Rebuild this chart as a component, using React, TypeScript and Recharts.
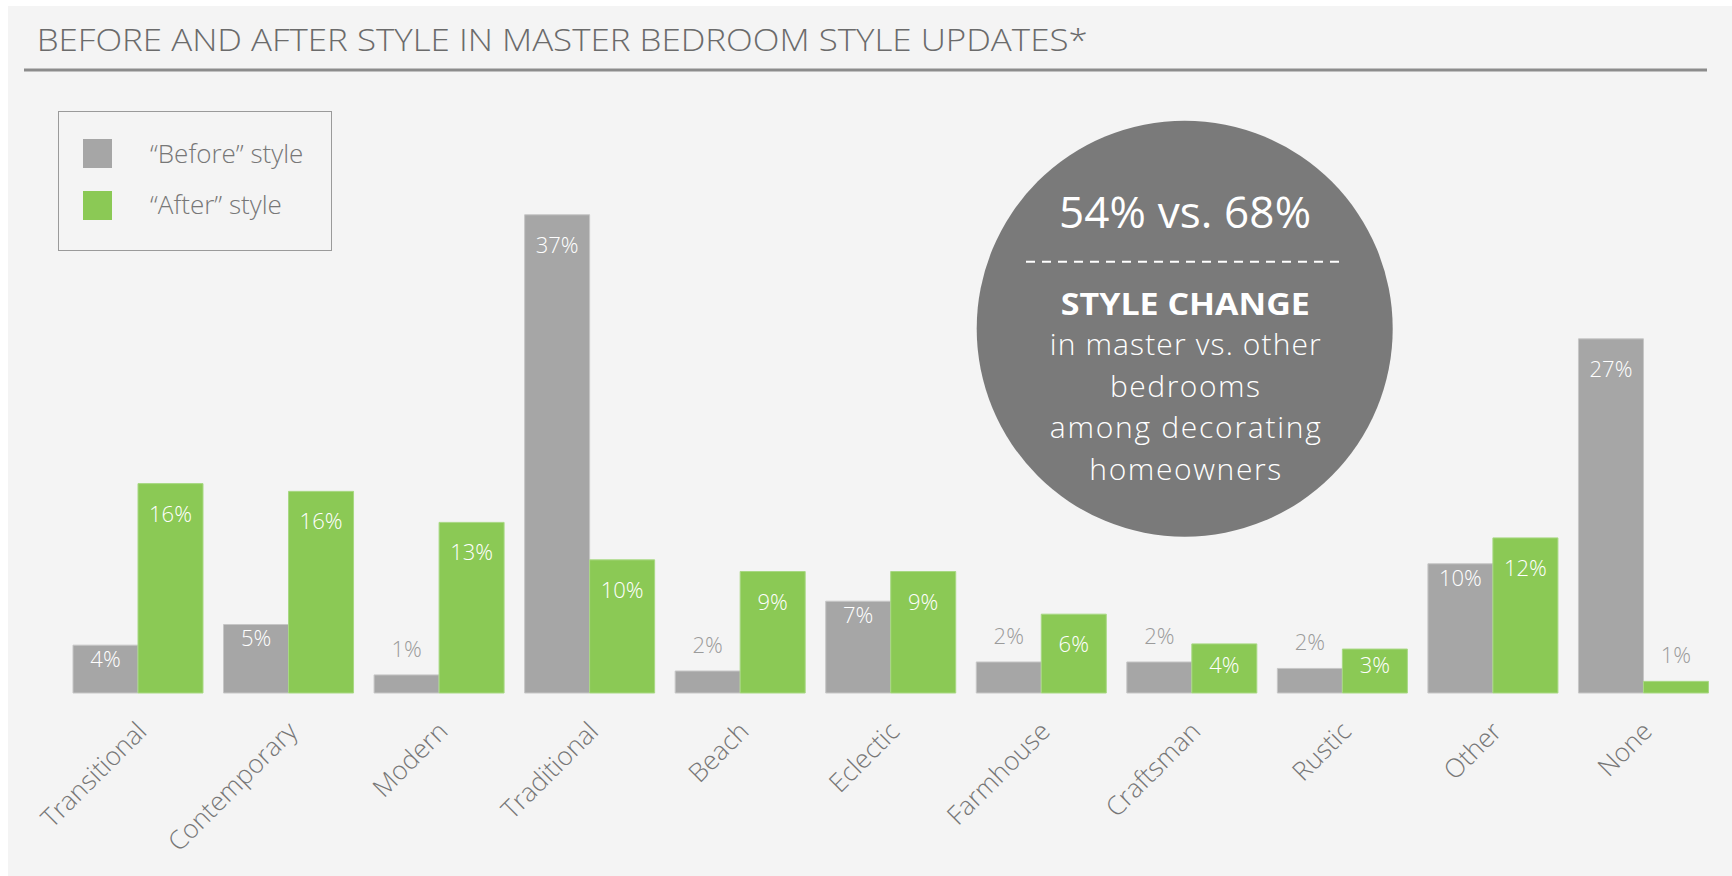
import React from "react";
import { BarChart, Bar, XAxis, YAxis, LabelList } from "recharts";

const categories = [
  "Transitional",
  "Contemporary",
  "Modern",
  "Traditional",
  "Beach",
  "Eclectic",
  "Farmhouse",
  "Craftsman",
  "Rustic",
  "Other",
  "None",
];
const beforeValues = [3.7, 5.3, 1.4, 37, 1.7, 7.1, 2.4, 2.4, 1.9, 10.0, 27.4];
const afterValues = [16.2, 15.6, 13.2, 10.3, 9.4, 9.4, 6.1, 3.8, 3.4, 12.0, 0.9];
const legendLabels = ["\u201cBefore\u201d style", "\u201cAfter\u201d style"];
const circleHeadline = "54% vs. 68%";
const circleLines = ["in master vs. other", "bedrooms", "among decorating", "homeowners"];

const FONT = "'Open Sans', sans-serif";
const GRAY = "#a6a6a6";
const GREEN = "#8bc955";

const data = categories.map((name, i) => ({
  name,
  before: beforeValues[i],
  after: afterValues[i],
}));

function makeLabel(series: "before" | "after") {
  return (props: any) => {
    const { x, y, width, height, value, index } = props;
    const cx = Number(x) + Number(width) / 2;
    const text = `${Math.round(Number(value))}%`;
    if (Number(value) < 3) {
      return (
        <text x={cx} y={Number(y) - 18} textAnchor="middle" fill="#9b9b9b"
          fontFamily={FONT} fontWeight={300} fontSize={22}>
          {text}
        </text>
      );
    }
    let capTop: number;
    if (series === "after") capTop = Math.min(22, Number(height) - 36);
    else capTop = beforeValues[index] > afterValues[index] ? 22 : 6;
    return (
      <text x={cx} y={Number(y) + capTop + 16} textAnchor="middle" fill="#ffffff"
        fontFamily={FONT} fontWeight={300} fontSize={22}>
        {text}
      </text>
    );
  };
}

const AngledTick = (props: any) => {
  const { x, y, payload } = props;
  const ax = x + 10;
  const ay = y + 40;
  return (
    <text x={ax} y={ay} transform={`rotate(-45, ${ax}, ${ay})`} textAnchor="end"
      fill="#777777" fontFamily={FONT} fontWeight={300} fontSize={26}>
      {payload.value}
    </text>
  );
};

export default function App() {
  return (
    <div style={{ position: "absolute", left: 0, top: 0, width: 1732, height: 876, background: "#ffffff" }}>
      <div style={{ position: "absolute", left: 8, top: 6, right: 0, bottom: 0, background: "#f4f4f4" }} />
      <div style={{ position: "absolute", left: 0, top: 0 }}>
        <BarChart
          width={1732}
          height={876}
          data={data}
          barGap={0}
          barSize={65}
          margin={{ top: 176, right: 13, left: 63, bottom: 33 }}
        >
          <XAxis dataKey="name" axisLine={false} tickLine={false} tickSize={0} tickMargin={0}
            height={150} interval={0} tick={<AngledTick />} />
          <YAxis hide domain={[0, 40]} />
          <Bar dataKey="before" fill={GRAY} stroke="#c6c6c6" strokeWidth={1} isAnimationActive={false}>
            <LabelList dataKey="before" content={makeLabel("before")} />
          </Bar>
          <Bar dataKey="after" fill={GREEN} stroke="#a8d883" strokeWidth={1} isAnimationActive={false}>
            <LabelList dataKey="after" content={makeLabel("after")} />
          </Bar>
        </BarChart>
      </div>
      <svg width={1732} height={876} style={{ position: "absolute", left: 0, top: 0, pointerEvents: "none" }}>
        <text x={36.7} y={50.7} fill="#6b6b6b" fontFamily={FONT} fontWeight={300} fontSize={31}
          textLength={1051} lengthAdjust="spacingAndGlyphs">
          BEFORE AND AFTER STYLE IN MASTER BEDROOM STYLE UPDATES*
        </text>
        <line x1={24} y1={70} x2={1707} y2={70} stroke="#8c8c8c" strokeWidth={3} />

        <rect x={58.5} y={111.5} width={273} height={139} fill="none" stroke="#9a9a9a" strokeWidth={1} />
        <rect x={83} y={139} width={29} height={29} fill={GRAY} />
        <rect x={83} y={191} width={29} height={29} fill={GREEN} />
        <text x={150} y={163.3} fill="#777777" fontFamily={FONT} fontWeight={300} fontSize={26}>
          {legendLabels[0]}
        </text>
        <text x={150} y={214.3} fill="#777777" fontFamily={FONT} fontWeight={300} fontSize={26}>
          {legendLabels[1]}
        </text>

        <circle cx={1184.7} cy={328.7} r={208} fill="#7a7a7a" />
        <text x={1185} y={228.3} textAnchor="middle" fill="#ffffff" fontFamily={FONT} fontWeight={400}
          fontSize={44} textLength={252}>
          {circleHeadline}
        </text>
        <line x1={1026} y1={261.7} x2={1343} y2={261.7} stroke="#ffffff" strokeWidth={2} strokeDasharray="9 7" />
        <text x={1185.3} y={315} textAnchor="middle" fill="#ffffff" fontFamily={FONT} fontWeight={700}
          fontSize={30} textLength={249} lengthAdjust="spacingAndGlyphs">
          STYLE CHANGE
        </text>
        <text x={1185.3} y={355} textAnchor="middle" fill="#ffffff" fontFamily={FONT} fontWeight={300}
          fontSize={30} textLength={271}>
          {circleLines[0]}
        </text>
        <text x={1185} y={396.7} textAnchor="middle" fill="#ffffff" fontFamily={FONT} fontWeight={300}
          fontSize={30} textLength={150}>
          {circleLines[1]}
        </text>
        <text x={1185.3} y={438.4} textAnchor="middle" fill="#ffffff" fontFamily={FONT} fontWeight={300}
          fontSize={30} textLength={271}>
          {circleLines[2]}
        </text>
        <text x={1185.3} y={480} textAnchor="middle" fill="#ffffff" fontFamily={FONT} fontWeight={300}
          fontSize={30} textLength={192}>
          {circleLines[3]}
        </text>
      </svg>
    </div>
  );
}
